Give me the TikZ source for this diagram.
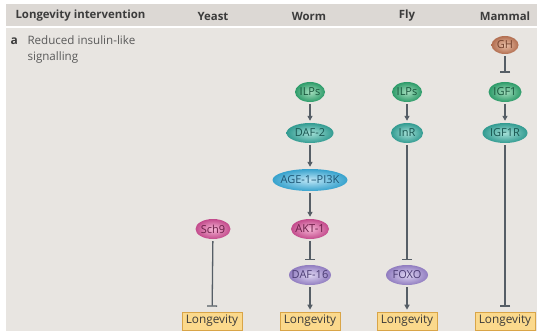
\documentclass[tikz,border=0pt]{standalone}
\usepackage{fontspec}
\setmainfont{Open Sans}
\usetikzlibrary{shapes.geometric,arrows.meta}

\definecolor{panel}{HTML}{E8E5E1}
\definecolor{headband}{HTML}{DCD8D4}
\definecolor{wire}{HTML}{565E66}
\definecolor{boxfill}{HTML}{FBD98C}
\definecolor{boxedge}{HTML}{D9A548}
\definecolor{ink}{HTML}{3A3A3A}
\definecolor{headink}{HTML}{3C3C3C}
\definecolor{lblink}{HTML}{5A5A5A}
% molecule colours: centre, rim, lettering
\definecolor{grnC}{RGB}{165,222,190}\definecolor{grnR}{RGB}{45,155,105}\definecolor{grnT}{RGB}{25,85,60}
\definecolor{tealC}{RGB}{165,224,215}\definecolor{tealR}{RGB}{50,155,145}\definecolor{tealT}{RGB}{25,85,80}
\definecolor{bluC}{RGB}{190,230,246}\definecolor{bluR}{RGB}{55,162,205}\definecolor{bluT}{RGB}{30,85,115}
\definecolor{pnkC}{RGB}{245,180,212}\definecolor{pnkR}{RGB}{195,75,140}\definecolor{pnkT}{RGB}{105,30,70}
\definecolor{lilC}{RGB}{222,213,242}\definecolor{lilR}{RGB}{145,125,192}\definecolor{lilT}{RGB}{75,60,115}
\definecolor{brnC}{RGB}{236,194,170}\definecolor{brnR}{RGB}{178,110,80}\definecolor{brnT}{RGB}{115,65,45}

\tikzset{
  mol/.style={ellipse, inner xsep=-4pt, inner ysep=0pt, minimum height=20pt, font=\fontsize{11}{11}\selectfont},
  mgreen/.style={mol, inner color=grnC, outer color=grnR, text=grnT},
  mteal/.style={mol, inner color=tealC, outer color=tealR, text=tealT},
  mblue/.style={mol, inner color=bluC, outer color=bluR, text=bluT},
  mpink/.style={mol, inner color=pnkC, outer color=pnkR, text=pnkT},
  mlilac/.style={mol, inner color=lilC, outer color=lilR, text=lilT},
  mbrown/.style={mol, minimum height=18pt, inner color=brnC, outer color=brnR, text=brnT},
  outcome/.style={rectangle, draw=boxedge, fill=boxfill, line width=0.6pt, inner sep=0pt,
    minimum width=60pt, minimum height=18pt, text=ink, font=\fontsize{11.8}{12}\selectfont},
  head/.style={font=\bfseries\fontsize{11.4}{12}\selectfont, text=headink},
  lbl/.style={font=\fontsize{11.6}{16}\selectfont, text=lblink, align=left},
  act/.style={draw=wire, line width=1.3pt, -{Triangle[length=5pt,width=5pt]}, shorten <=2pt, shorten >=2pt},
  inh/.style={draw=wire, line width=1.3pt, -{Bar[width=10pt,line width=1.3pt]}, shorten <=2pt, shorten >=5pt},
}

\begin{document}
\begin{tikzpicture}[x=1pt,y=-1pt]
  \useasboundingbox (0,0) rectangle (537,331);
  \fill[white] (0,0) rectangle (537,331);
  \fill[panel] (6,4) rectangle (537,331);
  \fill[headband] (6,4) rectangle (537,26);
  \fill[white] (6,26) rectangle (537,28);

  % column headings
  \node[head, anchor=west] (hint) at (12,16) {Longevity intervention};
  \node[head] (hyeast) at (213,16) {Yeast};
  \node[head] (hworm) at (309,16) {Worm};
  \node[head] (hfly) at (407,16) {Fly};
  \node[head] (hmam) at (505,16) {Mammal};

  % row label
  \node[font=\bfseries\fontsize{12}{13}\selectfont, text=headink, anchor=west] (rowa) at (7,41) {a};
  \node[lbl, anchor=north west] (rowlbl) at (24,32) {Reduced insulin-like\\signalling};

  % yeast
  \node[mpink, minimum width=35pt] (sch9) at (213,229) {Sch9};
  \node[outcome] (ly) at (212,321) {Longevity};

  % worm
  \node[mgreen, minimum width=30pt] (wilp) at (310,92) {ILPs};
  \node[mteal, minimum width=47pt] (daf2) at (310,133) {DAF-2};
  \node[mblue, minimum width=75pt, minimum height=22pt] (age1) at (310,180) {AGE-1–PI3K};
  \node[mpink, minimum width=38pt] (akt1) at (310,229) {AKT-1};
  \node[mlilac, minimum width=42pt] (daf16) at (310,275) {DAF-16};
  \node[outcome] (lw) at (310,321) {Longevity};

  % fly
  \node[mgreen, minimum width=30pt] (filp) at (407,92) {ILPs};
  \node[mteal, minimum width=32pt] (inr) at (407,133) {InR};
  \node[mlilac, minimum width=42pt] (foxo) at (407,275) {FOXO};
  \node[outcome] (lf) at (407,321) {Longevity};

  % mammal
  \node[mbrown, minimum width=27pt] (gh) at (505,45) {GH};
  \node[mgreen, minimum width=33pt] (igf1) at (505,92) {IGF1};
  \node[mteal, minimum width=45pt] (igf1r) at (505,133) {IGF1R};
  \node[outcome] (lm) at (505,321) {Longevity};

  % connectors
  \draw[inh] (sch9) -- (ly);

  \draw[act] (wilp) -- (daf2);
  \draw[act] (daf2) -- (age1);
  \draw[act] (age1) -- (akt1);
  \draw[inh] (akt1) -- (daf16);
  \draw[act] (daf16) -- (lw);

  \draw[act] (filp) -- (inr);
  \draw[inh] (inr) -- (foxo);
  \draw[act] (foxo) -- (lf);

  \draw[inh, shorten >=9pt] (gh) -- (igf1);
  \draw[act] (igf1) -- (igf1r);
  \draw[inh] (igf1r) -- (lm);
\end{tikzpicture}
\end{document}
